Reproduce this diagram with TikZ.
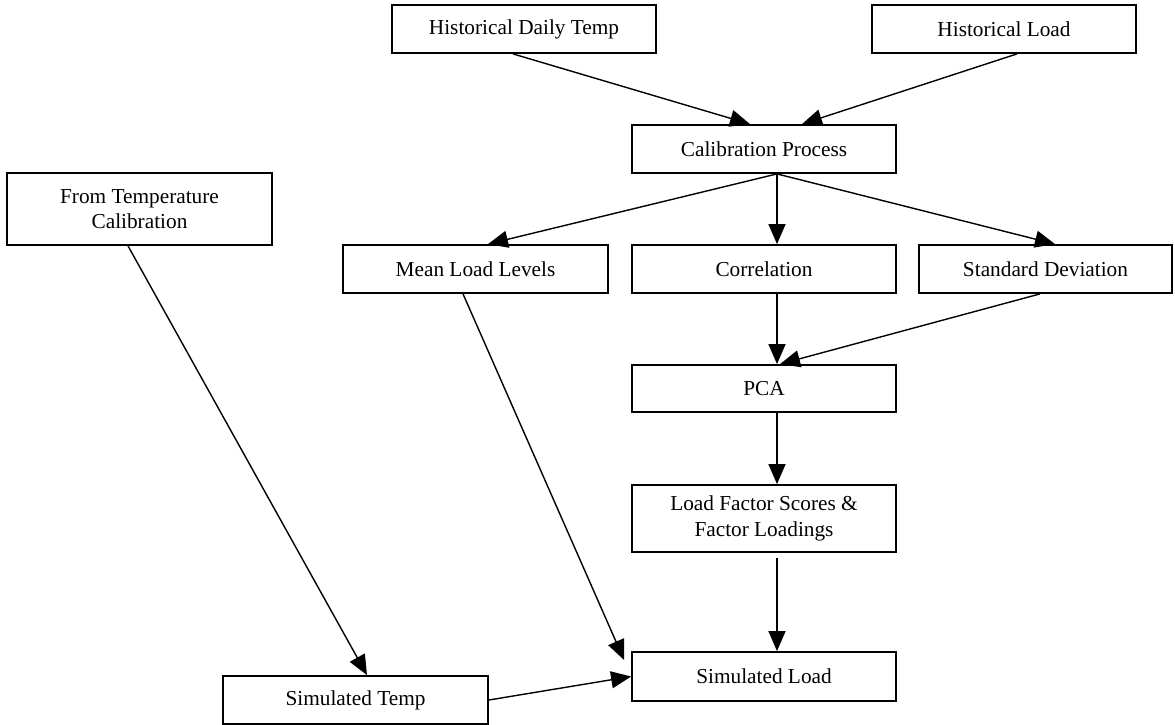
\documentclass[tikz,border=0pt]{standalone}
\usepackage{fontspec}
\setmainfont{Liberation Serif}
\usetikzlibrary{arrows.meta}
\begin{document}
\begin{tikzpicture}[x=1pt,y=-1pt,
  box/.style={draw=black,line width=1.8pt,rectangle,inner sep=0pt,align=center,
    font=\fontsize{21.3}{25.4}\selectfont,minimum width=264pt,minimum height=48pt},
  conn/.style={draw=black,line width=1.4pt,-{Triangle[length=20pt,width=17pt]}}]
\useasboundingbox (0,0) rectangle (1175,725);
\node[box] (hdt) at (524,29) {Historical Daily Temp};
\node[box] (hl) at (1004,29) {Historical Load};
\node[box] (cal) at (764,149) {Calibration Process};
\node[box,minimum width=265pt,minimum height=72pt] (ftc) at (139.5,209) {From Temperature\\Calibration};
\node[box,minimum width=265pt] (mll) at (475.5,269) {Mean Load Levels};
\node[box] (cor) at (764,269) {Correlation};
\node[box,minimum width=253pt] (sd) at (1045.5,269) {Standard Deviation};
\node[box,minimum height=47pt] (pca) at (764,388.5) {PCA};
\node[box,minimum height=67pt] (lf) at (764,518.5) {Load Factor Scores \&\\Factor Loadings};
\node[box,minimum height=49pt] (sl) at (764,676.5) {Simulated Load};
\node[box,minimum width=265pt] (st) at (355.5,700) {Simulated Temp};
\draw[conn] ([xshift=-11pt]hdt.south) -- ([xshift=-14pt]cal.north);
\draw[conn] ([xshift=13pt]hl.south) -- ([xshift=38pt]cal.north);
\draw[conn] ([xshift=13pt]cal.south) -- ([xshift=12.5pt]mll.north);
\draw[conn] ([xshift=13pt]cal.south) -- ([xshift=13pt]cor.north);
\draw[conn] ([xshift=13pt]cal.south) -- ([xshift=9.5pt]sd.north);
\draw[conn] ([xshift=13pt]cor.south) -- ([xshift=13pt]pca.north);
\draw[conn] ([xshift=-5.5pt]sd.south) -- ([xshift=16pt]pca.north);
\draw[conn] ([xshift=13pt]pca.south) -- ([xshift=13pt]lf.north);
\draw[conn] ([xshift=13pt,yshift=-5pt]lf.south) -- ([xshift=13pt]sl.north);
\draw[conn] ([xshift=-11.5pt]ftc.south) -- ([xshift=11.5pt]st.north);
\draw[conn] ([xshift=-12.5pt]mll.south) -- ([xshift=-7pt,yshift=16.5pt]sl.west);
\draw[conn] (st.east) -- (sl.west);
\end{tikzpicture}
\end{document}
